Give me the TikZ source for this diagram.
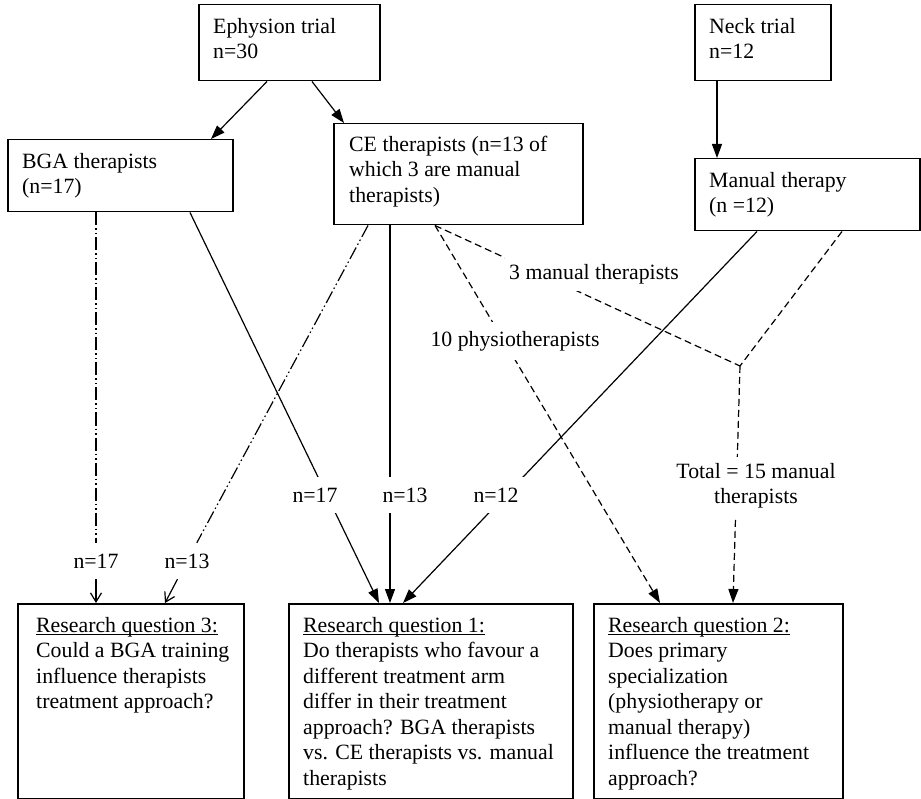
\documentclass[tikz,border=0pt]{standalone}
\usepackage{fontspec}
\setmainfont{Liberation Serif}
\usetikzlibrary{arrows.meta,calc}
\newsavebox\rqbox
\newcommand{\rqul}[1]{\sbox\rqbox{#1}\rlap{\rule[-3pt]{\wd\rqbox}{1.1pt}}\usebox\rqbox}
\newcommand{\fls}{\rule{0pt}{18pt}}
\begin{document}
\begin{tikzpicture}[x=1pt,y=-1pt,
  font=\fontsize{21.8pt}{25.5pt}\selectfont,
  box/.style={draw, line width=1.5pt, inner sep=0pt, anchor=north west},
  txt/.style={anchor=north west, inner sep=0pt, align=left},
  lab/.style={fill=white, inner xsep=4pt, inner ysep=0pt, minimum height=36pt},
  conn/.style={line width=1.2pt},
  arr/.style={conn, -{Triangle[length=14pt,width=10pt]}},
  dsh/.style={conn, dash pattern=on 7pt off 4pt},
  dsharr/.style={dsh, -{Triangle[length=14pt,width=10pt]}},
  ddot/.style={conn, dash pattern=on 13pt off 3pt on 1.5pt off 3pt on 1.5pt off 3pt},
  openarr/.style={conn, -{Straight Barb[length=9pt,width=11pt]}}]
\useasboundingbox (0,0) rectangle (921,799);

% boxes
\node[box, minimum width=181pt, minimum height=76pt] (E) at (198,4) {};
\node[box, minimum width=136pt, minimum height=76pt] (N) at (694,4) {};
\node[box, minimum width=225pt, minimum height=72pt] (BGA) at (7,139) {};
\node[box, minimum width=249pt, minimum height=101pt] (CE) at (333,123) {};
\node[box, minimum width=225pt, minimum height=72pt] (M) at (694,158) {};
\node[box, minimum width=226pt, minimum height=195pt] (RQ3) at (17,603) {};
\node[box, minimum width=284pt, minimum height=195pt] (RQ1) at (288,603) {};
\node[box, minimum width=249pt, minimum height=195pt] (RQ2) at (593,603) {};

% box texts
\node[txt] (Et) at ($(E.north west)+(15,11)$) {\fls Ephysion trial\\n=30};
\node[txt] (Nt) at ($(N.north west)+(15,11)$) {\fls Neck trial\\n=12};
\node[txt] (BGAt) at ($(BGA.north west)+(15,11)$) {\fls BGA therapists\\(n=17)};
\node[txt] (CEt) at ($(CE.north west)+(16,10)$) {\fls CE therapists (n=13 of\\which 3 are manual\\therapists)};
\node[txt] (Mt) at ($(M.north west)+(15,11)$) {\fls Manual therapy\\(n =12)};
\node[txt] (RQ3t) at ($(RQ3.north west)+(19,11)$) {\fls\rqul{Research question 3:}\\Could a BGA training\\influence therapists\\treatment approach?};
\node[txt] (RQ1t) at ($(RQ1.north west)+(15,11)$) {\fls\rqul{Research question 1:}\\Do therapists who favour a\\different treatment arm\\differ in their treatment\\approach? BGA therapists\\vs. CE therapists vs. manual\\therapists};
\node[txt] (RQ2t) at ($(RQ2.north west)+(15,11)$) {\fls\rqul{Research question 2:}\\Does primary\\specialization\\(physiotherapy or\\manual therapy)\\influence the treatment\\approach?};

% left labels (lines end at them)
\node[lab] (l17) at (96,561) {n=17};
\node[lab] (l13) at (187,561) {n=13};

% connectors
\draw[arr] ($(E.south west)+(69,0)$) -- ($(BGA.north west)+(204,0)$);
\draw[arr] ($(E.south west)+(114,0)$) -- ($(CE.north west)+(11,0)$);
\draw[arr] ($(N.south west)+(23,0)$) -- ($(M.north west)+(23,0)$);

\draw[ddot] ($(BGA.south west)+(89,0)$) -- (l17);
\draw[openarr] (l17) -- ($(RQ3.north west)+(79,0)$);
\draw[ddot] ($(CE.south west)+(35,0)$) -- (l13);
\draw[openarr] (l13) -- ($(RQ3.north west)+(148,0)$);

\draw[arr] ($(BGA.south west)+(183,0)$) -- ($(RQ1.north west)+(91,0)$);
\draw[arr] ($(CE.south west)+(57,0)$) -- ($(RQ1.north west)+(102,0)$);
\draw[arr] ($(M.south west)+(63,0)$) -- ($(RQ1.north west)+(115,0)$);

\coordinate (J) at (740,366);
\draw[dsharr] ($(CE.south west)+(102,0)$) -- ($(RQ2.north west)+(67,0)$);
\draw[dsh] ($(CE.south west)+(102,0)$) -- (J);
\draw[dsh] ($(M.south west)+(148,0)$) -- (J);
\draw[dsharr] (J) -- ($(RQ2.north west)+(140,0)$);

% overlaid labels
\node[lab, minimum height=35pt] (l3m) at (594,274) {3 manual therapists};
\node[lab, minimum height=38pt] (l10p) at (515,341) {10 physiotherapists};
\node[lab, align=center, minimum height=59pt] (ltot) at (756,486) {Total = 15 manual\\therapists};
\node[lab] (l17m) at (315,495) {n=17};
\node[lab] (l13m) at (405,495) {n=13};
\node[lab, inner xsep=5pt] (l12m) at (496,495) {n=12};
\end{tikzpicture}
\end{document}
